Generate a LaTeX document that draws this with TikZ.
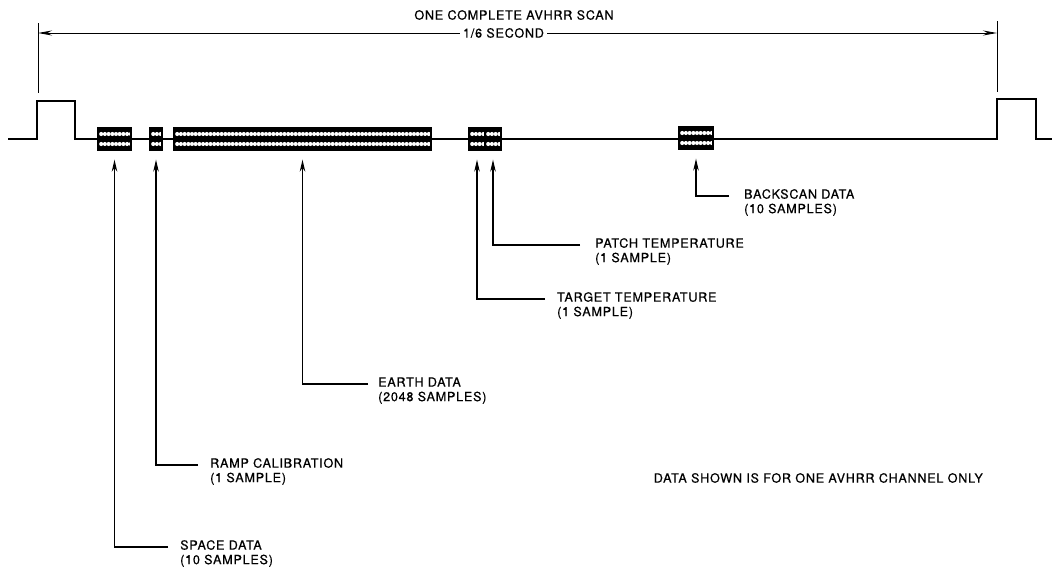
\documentclass[tikz,border=0pt]{standalone}
\usepackage{fontspec}
\setmainfont{TeX Gyre Heros}[LetterSpace=6, FakeBold=0.6]
\usetikzlibrary{arrows.meta}
\newcommand{\twolines}[2]{\begin{tabular}[t]{@{}l@{}}#1\\#2\end{tabular}}

\begin{document}
\begin{tikzpicture}[x=1pt, y=-1pt, >={Stealth[length=12pt,width=5.5pt]},
		font=\fontsize{12.6}{14.5}\selectfont,
		sig/.style={line width=1.7pt},
		lead/.style={->, line width=1.2pt},
		lbl/.style={anchor=mid west, inner sep=0pt},
		databox/.style={draw, fill=black, line width=1.3pt, inner sep=0pt, minimum height=22pt,
			path picture={
				\foreach \i in {0,...,75}{
					\fill[white] ([xshift=3.2pt+\i*3.7pt, yshift=5pt]path picture bounding box.west) circle (2.05pt);
					\fill[white] ([xshift=3.2pt+\i*3.7pt, yshift=-5pt]path picture bounding box.west) circle (2.05pt);
				}
			}}]
		\useasboundingbox (0,0) rectangle (1058,570);

		% one scan between the two sync pulses
		\draw[sig] (8,139) -- (37,139) -- (37,101) -- (75,101) -- (75,139)
			-- (997,139) -- (997,99) -- (1036,99) -- (1036,139) -- (1052,139);

		\node[databox, minimum width=33pt] (space) at (114.5,139) {};
		\node[databox, minimum width=12pt] (ramp) at (156,139) {};
		\node[databox, minimum width=257pt] (earth) at (302.5,139) {};
		\node[databox, minimum width=16pt] (target) at (477,139) {};
		\node[databox, minimum width=16pt] (patch) at (493,139) {};
		\node[databox, minimum width=34pt] (backscan) at (696,138) {};

		% scan period
		\draw[line width=0.9pt] (38,23) -- (38,93);
		\draw[line width=0.9pt] (997,21) -- (997,92);
		\coordinate (scanL) at (38,33);
		\coordinate (scanR) at (997,33);
		\node (title) at (514,15) {ONE COMPLETE AVHRR SCAN};
		\node[inner sep=3pt] (period) at (503.5,33) {1/6 SECOND};
		\draw[line width=0.9pt, -{Stealth[length=14pt,width=5pt]}] (period.west) -- (scanL);
		\draw[line width=0.9pt, -{Stealth[length=14pt,width=5pt]}] (period.east) -- (scanR);

		\node[lbl] (bstxt) at (744,196) {\twolines{BACKSCAN DATA}{(10 SAMPLES)}};
		\node[lbl] (pttxt) at (595,245) {\twolines{PATCH TEMPERATURE}{(1 SAMPLE)}};
		\node[lbl] (tttxt) at (557,299) {\twolines{TARGET TEMPERATURE}{(1 SAMPLE)}};
		\node[lbl] (ertxt) at (378,384) {\twolines{EARTH DATA}{(2048 SAMPLES)}};
		\node[lbl] (rctxt) at (210,465) {\twolines{RAMP CALIBRATION}{(1 SAMPLE)}};
		\node[lbl] (sptxt) at (180,547) {\twolines{SPACE DATA}{(10 SAMPLES)}};
		\node[lbl, anchor=east] (note) at (983,478) {DATA SHOWN IS FOR ONE AVHRR CHANNEL ONLY};

		\foreach \t/\b/\g in {bstxt/backscan/15, pttxt/patch/15, tttxt/target/12,
				ertxt/earth/10, rctxt/ramp/12, sptxt/space/12}
			\draw[lead] ([xshift=-\g pt]\t.mid west) -| ([yshift=-9pt]\b.south);
	\end{tikzpicture}
\end{document}
